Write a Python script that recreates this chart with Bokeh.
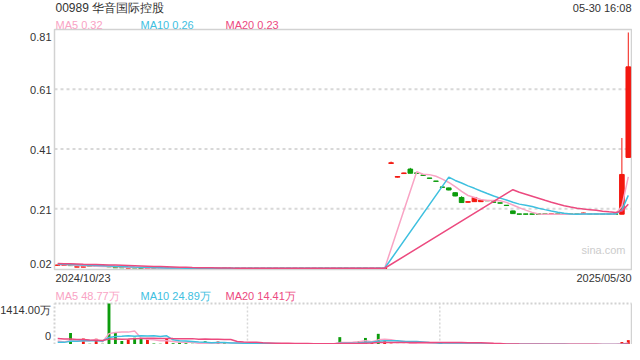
import numpy as np
from bokeh.plotting import figure
from bokeh.models import Range1d, Label, ColumnDataSource
from bokeh.embed import file_html
from bokeh.resources import INLINE

# ---------------- data ----------------
title_text = "00989 华音国际控股"
time_text = "05-30 16:08"
date_labels = ["2024/10/23", "2025/05/30"]
price_ma_labels = ["MA5 0.32", "MA10 0.26", "MA20 0.23"]
vol_ma_labels = ["MA5 48.77万", "MA10 24.89万", "MA20 14.41万"]
price_tick_labels = ["0.81", "0.61", "0.41", "0.21", "0.02"]
price_grid_values = [0.61, 0.41, 0.21]
vol_tick_labels = ["1414.00万", "0"]
vol_max = 1414
watermark = "sina.com"
resume_index = 52
ma_periods = [5, 10, 20]

opens = [0.021, 0.021, 0.022, 0.015, 0.015, 0.019, 0.017, 0.0185, 0.017, 0.014,
         0.0135, 0.012, 0.013, 0.0115, 0.011, 0.0115, 0.0115, 0.011, 0.0115, 0.0115,
         0.0115, 0.0115, 0.0115, 0.0115, 0.0115, 0.011, 0.0115, 0.011, 0.0115, 0.011,
         0.0115, 0.0115, 0.011, 0.0115, 0.011, 0.0115, 0.0115, 0.011, 0.0115, 0.0115,
         0.011, 0.0115, 0.0115, 0.011, 0.0115, 0.0115, 0.011, 0.0115, 0.0115, 0.011,
         0.0115, 0.011, 0.362, 0.316, 0.328, 0.343, 0.330, 0.323, 0.313, 0.303,
         0.283, 0.280, 0.264, 0.248, 0.232, 0.234, 0.234, 0.238, 0.233, 0.230,
         0.222, 0.203, 0.193, 0.193, 0.193, 0.193, 0.193, 0.192, 0.193, 0.193,
         0.193, 0.193, 0.194, 0.193, 0.193, 0.193, 0.193, 0.193, 0.192, 0.382]
highs = [0.023, 0.023, 0.022, 0.017, 0.017, 0.019, 0.021, 0.019, 0.018, 0.014,
         0.014, 0.013, 0.014, 0.012, 0.012, 0.0115, 0.012, 0.012, 0.0115, 0.0115,
         0.0115, 0.0115, 0.0115, 0.0115, 0.0115, 0.0115, 0.0115, 0.0115, 0.0115, 0.0115,
         0.0115, 0.0115, 0.0115, 0.0115, 0.0115, 0.0115, 0.0115, 0.0115, 0.0115, 0.0115,
         0.0115, 0.0115, 0.0115, 0.0115, 0.0115, 0.0115, 0.0115, 0.0115, 0.0115, 0.0115,
         0.0115, 0.0115, 0.368, 0.319, 0.331, 0.347, 0.331, 0.323, 0.313, 0.303,
         0.284, 0.281, 0.265, 0.252, 0.234, 0.249, 0.240, 0.238, 0.233, 0.230,
         0.222, 0.204, 0.193, 0.193, 0.193, 0.193, 0.193, 0.193, 0.193, 0.193,
         0.193, 0.193, 0.197, 0.193, 0.193, 0.193, 0.193, 0.193, 0.447, 0.800]
lows = [0.020, 0.021, 0.019, 0.015, 0.015, 0.017, 0.017, 0.017, 0.015, 0.012,
        0.013, 0.012, 0.012, 0.011, 0.011, 0.011, 0.011, 0.011, 0.011, 0.011,
        0.011, 0.011, 0.011, 0.011, 0.011, 0.011, 0.011, 0.011, 0.011, 0.011,
        0.011, 0.011, 0.011, 0.011, 0.011, 0.011, 0.011, 0.011, 0.011, 0.011,
        0.011, 0.011, 0.011, 0.011, 0.011, 0.011, 0.011, 0.011, 0.011, 0.011,
        0.011, 0.011, 0.360, 0.315, 0.327, 0.329, 0.328, 0.321, 0.311, 0.301,
        0.281, 0.272, 0.252, 0.230, 0.231, 0.233, 0.233, 0.236, 0.231, 0.228,
        0.220, 0.193, 0.191, 0.191, 0.191, 0.191, 0.191, 0.191, 0.191, 0.191,
        0.191, 0.191, 0.194, 0.191, 0.191, 0.191, 0.191, 0.191, 0.192, 0.382]
closes = [0.022, 0.022, 0.020, 0.016, 0.016, 0.018, 0.018, 0.018, 0.016, 0.013,
          0.013, 0.013, 0.0125, 0.011, 0.0115, 0.011, 0.011, 0.0115, 0.011, 0.011,
          0.011, 0.011, 0.011, 0.011, 0.011, 0.0115, 0.011, 0.0115, 0.011, 0.0115,
          0.011, 0.011, 0.0115, 0.011, 0.0115, 0.011, 0.011, 0.0115, 0.011, 0.011,
          0.0115, 0.011, 0.011, 0.0115, 0.011, 0.011, 0.0115, 0.011, 0.011, 0.0115,
          0.011, 0.0115, 0.364, 0.318, 0.330, 0.329, 0.329, 0.322, 0.312, 0.302,
          0.282, 0.273, 0.253, 0.231, 0.234, 0.248, 0.239, 0.237, 0.232, 0.229,
          0.221, 0.194, 0.192, 0.192, 0.192, 0.192, 0.192, 0.193, 0.192, 0.192,
          0.192, 0.192, 0.196, 0.192, 0.192, 0.192, 0.192, 0.192, 0.325, 0.685]
volumes = [20, 15, 396, 20, 206, 30, 200, 25, 1414, 405,
           122, 170, 235, 190, 178, 37, 25, 218, 45, 65,
           45, 25, 15, 113, 20, 100, 40, 20, 45, 30,
           20, 10, 10, 30, 10, 25, 25, 10, 10, 25,
           10, 10, 25, 25, 254, 40, 30, 113, 226, 65,
           368, 113, 30, 20, 20, 25, 15, 12, 10, 15,
           12, 20, 18, 25, 10, 15, 10, 8, 6, 6,
           8, 10, 5, 4, 4, 3, 3, 3, 4, 3,
           1, 1, 1, 1, 1, 3, 3, 3, 85, 150]
# history just before the window (sets the starting level of the MA lines)
prior_closes = [0.030, 0.030, 0.029, 0.029, 0.029, 0.028, 0.028, 0.028, 0.028, 0.027,
                0.027, 0.027, 0.026, 0.026, 0.025, 0.025, 0.024, 0.024, 0.023]
prior_volumes = [420, 300, 380, 260, 350, 310, 290, 400, 330, 320,
                 40, 25, 30, 35, 20, 180, 150, 140, 120]

# ---------------- styles / geometry ----------------
UP = "#f3170f"
DOWN = "#0c9c0c"
MA_COLORS = ["#f9a3c4", "#3ec0df", "#ec4a7f"]
TEXT = "#333333"
FONT = "Liberation Sans"
BORDER = "#d2d2d2"
GRID = "#d8d8d8"
N = len(closes)
W, H = 632, 344
FL, FR = 54, 631          # panel left / right (px)
PT, PB = 29, 269          # price panel top / bottom (px)
VT, VB = 303, 344         # volume panel top / bottom (px)
Y0, Y1 = 0.007, 0.81      # price range shown in the price panel


def dx(X):
    return -0.5 + (X - FL) / (FR - FL) * N


def dy(Y):
    return Y1 - (Y - PT) / (PB - PT) * (Y1 - Y0)


def dv(Y):
    return vol_max * (VB - Y) / (VB - VT)


def seg_ma(vals, n, prior):
    hist = list(prior) + list(vals)
    k = len(prior)
    out = []
    for i in range(len(vals)):
        j = k + i
        out.append(float(np.mean(hist[j - n + 1:j + 1])) if j - n + 1 >= 0 else np.nan)
    return out


def drop_nan(vals):
    xs = [i for i, val in enumerate(vals) if not np.isnan(val)]
    return xs, [vals[i] for i in xs]


idx = list(range(N))
colors = []
for i in idx:
    o, c = opens[i], closes[i]
    prev = closes[i - 1] if i > 0 else c
    colors.append(UP if (c > o or (c == o and c >= prev)) else DOWN)

src = ColumnDataSource(dict(
    x=idx, top=[max(o, c) for o, c in zip(opens, closes)],
    bottom=[min(o, c) for o, c in zip(opens, closes)],
    high=highs, low=lows, color=colors, vol=volumes))

p = figure(width=W, height=H, x_range=Range1d(dx(0), dx(W)), y_range=Range1d(dy(H), dy(0)),
           output_backend="svg", toolbar_location=None,
           min_border=0, min_border_left=0, min_border_right=0, min_border_top=0, min_border_bottom=0)
p.extra_y_ranges = {"vol": Range1d(dv(H), dv(0))}
p.xaxis.visible = False
p.yaxis.visible = False
p.grid.visible = False
p.outline_line_color = None
p.background_fill_color = "white"
p.border_fill_color = "white"

XL, XR = -0.5, N - 0.5

# ---- price panel ----
p.segment(x0=[XL] * len(price_grid_values), x1=[XR] * len(price_grid_values),
          y0=price_grid_values, y1=price_grid_values,
          line_color=GRID, line_dash="3 3", line_width=2)
p.quad(left=[XL], right=[XR], bottom=[Y0], top=[Y1], fill_color=None,
       line_color=BORDER, line_width=1.5)

p.segment(x0="x", y0="low", x1="x", y1="high", color="color", line_width=1, source=src)
p.vbar(x="x", top="top", bottom="bottom", width=0.72, fill_color="color",
       line_color="color", line_width=1, source=src)

for n, col in zip(ma_periods, MA_COLORS):
    ma = seg_ma(closes[:resume_index], n, prior_closes) + seg_ma(closes[resume_index:], n, [])
    xs, ys = drop_nan(ma)
    p.line(xs, ys, line_color=col, line_width=1.5)

# ---- volume panel ----
vgrid_x = [29.6, 59.6]
p.segment(x0=[XL, XL], x1=[XR, XL], y0=[vol_max, 0], y1=[vol_max, vol_max],
          line_color=BORDER, line_dash="2 2", line_width=2, y_range_name="vol")
p.segment(x0=vgrid_x, x1=vgrid_x, y0=[0, 0], y1=[vol_max, vol_max],
          line_color=GRID, line_dash="2 2", line_width=1.5, y_range_name="vol")
p.segment(x0=[XR], x1=[XR], y0=[0], y1=[vol_max], line_color=BORDER, line_width=1.5,
          y_range_name="vol")
p.vbar(x="x", top="vol", bottom=0, width=0.45, fill_color="color", line_color=None,
       source=src, y_range_name="vol")
for n, col in zip(ma_periods, MA_COLORS):
    ma = seg_ma(volumes, n, prior_volumes)
    xs, ys = drop_nan(ma)
    p.line(xs, ys, line_color=col, line_width=1.5, y_range_name="vol")


# ---- texts ----
def label(text, X, Y, align="left", size="11px", color=TEXT, baseline="middle"):
    p.add_layout(Label(x=dx(X), y=dy(Y), text=text, text_align=align, text_baseline=baseline,
                       text_font=FONT, text_font_size=size, text_color=color))


for lab, Y in zip(price_tick_labels, [36, 89, 149, 209, 263]):
    label(lab, 51, Y, align="right")
label(title_text, 55, 7.5, size="12px")
label(time_text, FR, 7.5, align="right")
for lab, X, col in zip(price_ma_labels, [55, 140, 225], MA_COLORS):
    label(lab, X, 24.5, color=col)
label(date_labels[0], 55, 277.5)
label(date_labels[1], FR, 277.5, align="right")
label(watermark, 581, 249, size="11px", color="#cccccc")
for lab, X, col in zip(vol_ma_labels, [55, 140, 225], MA_COLORS):
    label(lab, X, 295, color=col)
for lab, Y in zip(vol_tick_labels, [309.5, 335.5]):
    label(lab, 50.5, Y, align="right")

open("out.html", "w").write(file_html(p, INLINE))
